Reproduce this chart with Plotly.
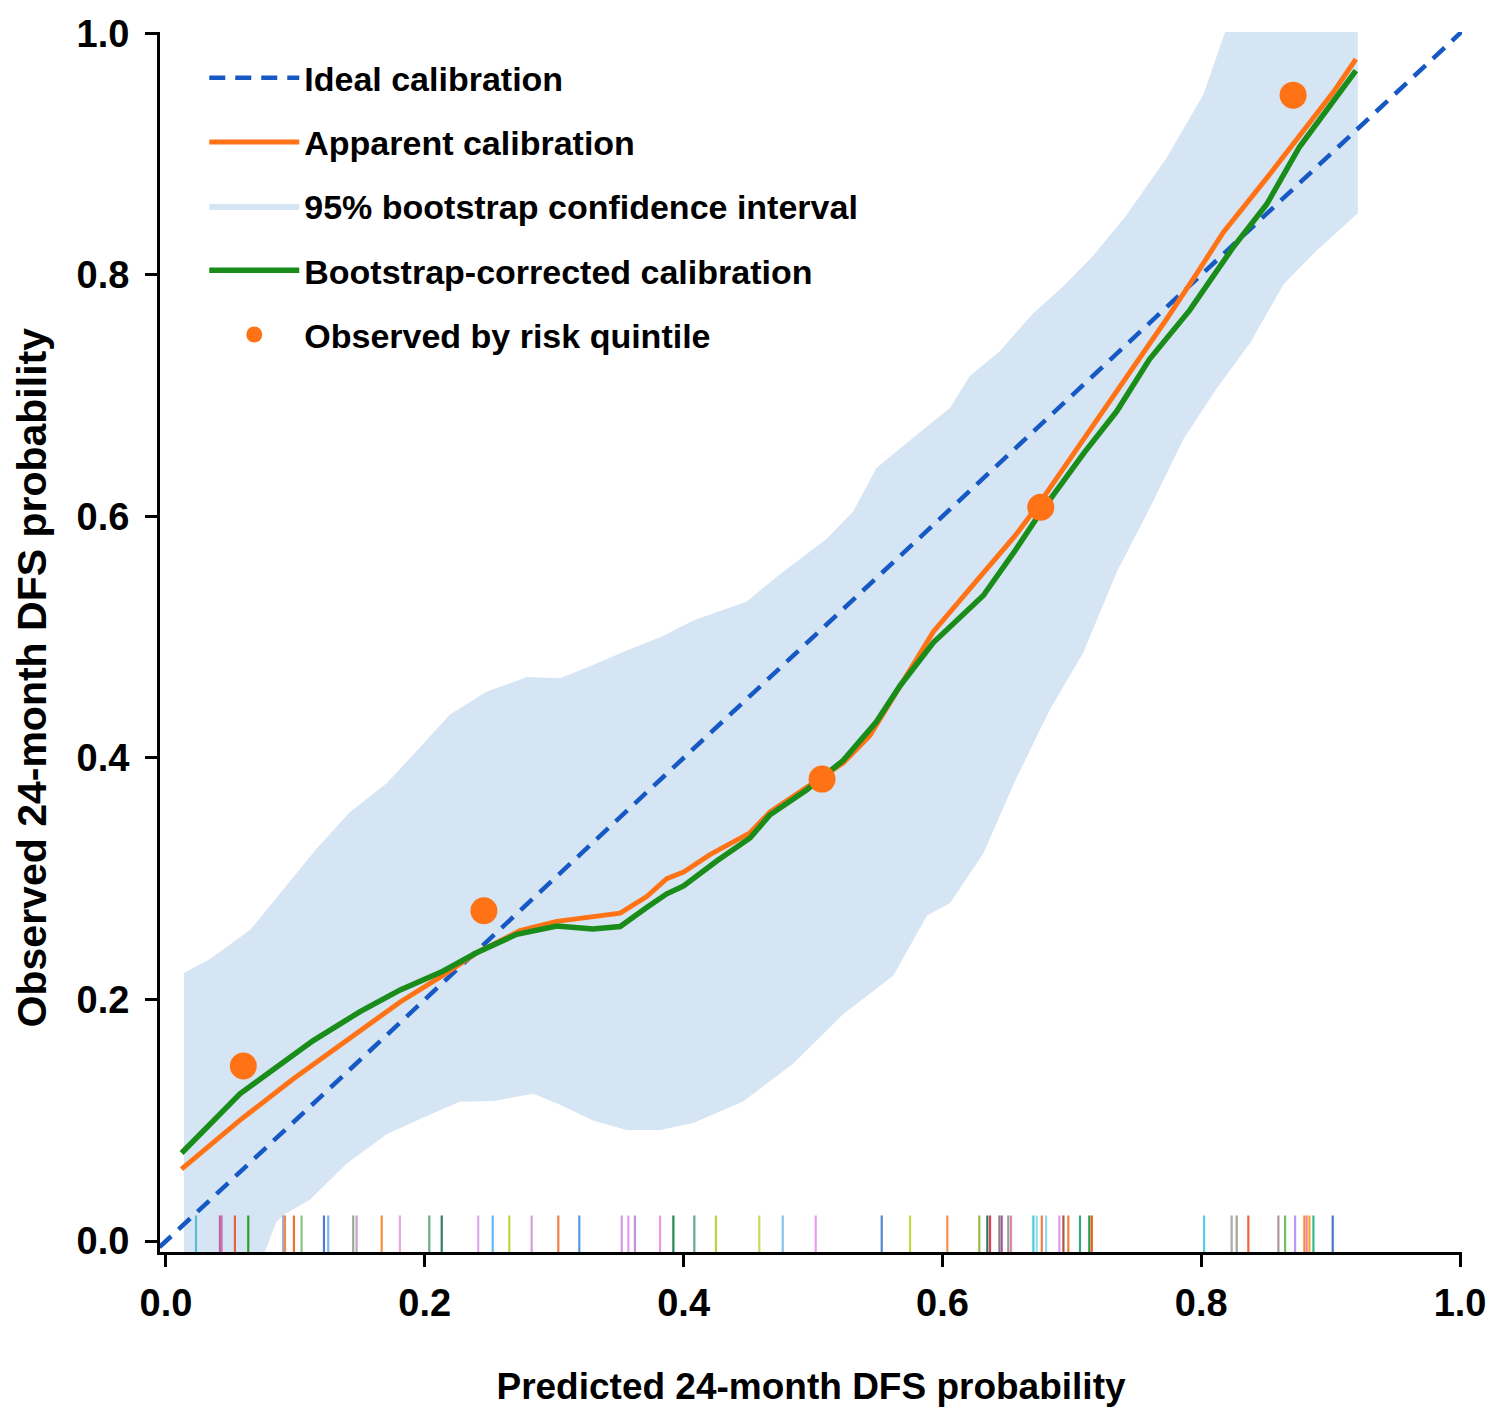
import plotly.graph_objects as go

# ---------------- data ----------------
ideal_x = [-0.005, 1.0015]
ideal_y = [-0.005, 1.0015]

apparent_x = [0.012, 0.057, 0.098, 0.140, 0.181, 0.214, 0.240, 0.2736, 0.302, 0.351, 0.3715,
              0.387, 0.400, 0.4204, 0.4513, 0.4668, 0.495, 0.5234, 0.544, 0.567, 0.593, 0.629,
              0.657, 0.675, 0.709, 0.742, 0.773, 0.7965, 0.817, 0.8506, 0.876, 0.902, 0.9195]
apparent_y = [0.0596, 0.100, 0.134, 0.166, 0.198, 0.220, 0.2387, 0.257, 0.2647, 0.2715, 0.2853,
              0.300, 0.3056, 0.320, 0.338, 0.3554, 0.3758, 0.396, 0.4187, 0.4594, 0.5046, 0.550,
              0.585, 0.611, 0.6635, 0.7134, 0.763, 0.801, 0.835, 0.880, 0.9156, 0.951, 0.9785]

corrected_x = [0.0121, 0.0572, 0.083, 0.1138, 0.150, 0.181, 0.214, 0.240, 0.271, 0.302, 0.330,
               0.351, 0.3715, 0.387, 0.400, 0.4256, 0.4513, 0.4668, 0.495, 0.5234, 0.549, 0.567,
               0.593, 0.6316, 0.657, 0.675, 0.709, 0.7347, 0.760, 0.791, 0.8248, 0.8506, 0.876,
               0.902, 0.9195]
corrected_y = [0.073, 0.122, 0.142, 0.166, 0.190, 0.208, 0.2235, 0.2387, 0.254, 0.2608, 0.2585,
               0.2605, 0.2762, 0.2875, 0.294, 0.3147, 0.3337, 0.353, 0.3735, 0.398, 0.430, 0.4594,
               0.4956, 0.5345, 0.573, 0.602, 0.652, 0.687, 0.730, 0.7705, 0.823, 0.8584, 0.906,
               0.944, 0.969]

ci_upper_x = [0.0139, 0.034, 0.065, 0.0855, 0.1165, 0.142, 0.1705, 0.191, 0.2195, 0.248, 0.279,
              0.3045, 0.330, 0.356, 0.382, 0.4075, 0.4488, 0.472, 0.5106, 0.531, 0.549, 0.575,
              0.606, 0.621, 0.6445, 0.670, 0.693, 0.7165, 0.742, 0.773, 0.8016, 0.8246, 0.921]
ci_upper_y = [0.222, 0.2336, 0.2575, 0.284, 0.325, 0.355, 0.379, 0.4026, 0.436, 0.455, 0.467,
              0.466, 0.477, 0.489, 0.500, 0.5137, 0.5296, 0.550, 0.5815, 0.604, 0.640, 0.663,
              0.690, 0.716, 0.737, 0.768, 0.790, 0.8157, 0.849, 0.8965, 0.949, 1.02, 1.02]

ci_lower_x = [0.0139, 0.0726, 0.0853, 0.093, 0.111, 0.140, 0.1705, 0.2015, 0.227, 0.253, 0.284,
              0.3045, 0.330, 0.356, 0.382, 0.4075, 0.446, 0.485, 0.5234, 0.562, 0.588, 0.606,
              0.6316, 0.657, 0.683, 0.709, 0.7347, 0.760, 0.786, 0.812, 0.838, 0.8635, 0.889, 0.921]
ci_lower_y = [-0.02, -0.02, 0.016, 0.023, 0.034, 0.0645, 0.0885, 0.1035, 0.1154, 0.116, 0.122,
              0.113, 0.0998, 0.092, 0.092, 0.0977, 0.1156, 0.1473, 0.188, 0.2197, 0.2694, 0.280,
              0.321, 0.383, 0.440, 0.4876, 0.554, 0.6064, 0.6635, 0.706, 0.744, 0.792, 0.820, 0.851]

quintile_x = [0.0598, 0.2457, 0.507, 0.676, 0.871]
quintile_y = [0.145, 0.2735, 0.3825, 0.6075, 0.9487]

rug_x = [0.0232, 0.0417, 0.0430, 0.0533, 0.0636, 0.0906, 0.0920, 0.0989, 0.1048, 0.1221, 0.1254,
         0.1447, 0.1473, 0.1667, 0.1808, 0.2035, 0.2131, 0.2413, 0.2525, 0.2653, 0.2826, 0.3032,
         0.3194, 0.3522, 0.3573, 0.3624,
         0.3818, 0.3921, 0.4083, 0.4250, 0.4585, 0.4766, 0.5021, 0.5531, 0.5750, 0.6038, 0.6285,
         0.6347, 0.6368, 0.6440, 0.6458, 0.6509, 0.6530, 0.6703, 0.6729, 0.6768, 0.6801, 0.6904,
         0.6935, 0.6973, 0.7063, 0.7135, 0.7154,
         0.8022, 0.8235, 0.8274, 0.8364, 0.8596, 0.8648, 0.8725, 0.8797, 0.8815, 0.8836, 0.8867,
         0.9016]
rug_colors = ["#5bbcd6", "#b565a7", "#d070b0", "#e8603c", "#2ca02c", "#a5a5c0", "#e8905a", "#f07030",
              "#8cc080", "#5577dd", "#77bbee", "#9aaa9a", "#c8a0c8", "#f39040", "#eaa6e6", "#66aa88",
              "#2f7f5f", "#e0aaf0", "#66b8f0", "#bbd840", "#d0a0e0", "#f08050", "#5599dd", "#d59ae0",
              "#e0a0f0", "#c890d8",
              "#ee99dd", "#228855", "#66aa88", "#c0d040", "#c8dd55", "#88c4f0", "#ee99ee", "#5588cc",
              "#c8d840", "#f59050", "#99bb44", "#2a7a5a", "#e04060", "#888888", "#aa5599", "#999999",
              "#dd88aa", "#44ccdd", "#99ddee", "#f08040", "#88ddee", "#dd99ee", "#aa5544", "#f28030",
              "#33aa77", "#2a9a4a", "#f05a20",
              "#55ccee", "#aaaaaa", "#99aa99", "#ee6633", "#aa9999", "#77bb66", "#bb99ee", "#ff8833",
              "#ee88aa", "#eeaa33", "#33bb88", "#4477cc"]
rug_y = [0.005] * len(rug_x)

x_ticks = [0.0, 0.2, 0.4, 0.6, 0.8, 1.0]
y_ticks = [0.0, 0.2, 0.4, 0.6, 0.8, 1.0]
tick_text = ["0.0", "0.2", "0.4", "0.6", "0.8", "1.0"]

x_title = "Predicted 24-month DFS probability"
y_title = "Observed 24-month DFS probability"

# ---------------- styles ----------------
FONT = "Liberation Sans, Arial, sans-serif"
C_BAND = "#d6e5f4"
C_IDEAL = "#1659c4"
C_APP = "#ff7316"
C_COR = "#1a8c1a"

fig = go.Figure()

fig.add_trace(go.Scatter(
    x=ci_upper_x + ci_lower_x[::-1], y=ci_upper_y + ci_lower_y[::-1],
    mode="lines", fill="toself", fillcolor=C_BAND, line=dict(width=0, color=C_BAND),
    name="95% bootstrap confidence interval", legendrank=3, legendgroup="c", hoverinfo="skip"))

fig.add_trace(go.Scatter(
    x=ideal_x, y=ideal_y, mode="lines",
    line=dict(color=C_IDEAL, width=4.5, dash="16px,10px"),
    name="Ideal calibration", legendrank=1, legendgroup="a"))

fig.add_trace(go.Scatter(
    x=rug_x, y=rug_y, mode="markers", showlegend=False, hoverinfo="x",
    marker=dict(symbol="line-ns-open", size=28, color=rug_colors,
                line=dict(width=2.2, color=rug_colors))))

fig.add_trace(go.Scatter(
    x=apparent_x, y=apparent_y, mode="lines",
    line=dict(color=C_APP, width=5),
    name="Apparent calibration", legendrank=2, legendgroup="b"))

fig.add_trace(go.Scatter(
    x=corrected_x, y=corrected_y, mode="lines",
    line=dict(color=C_COR, width=5.5),
    name="Bootstrap-corrected calibration", legendrank=4, legendgroup="d"))

fig.add_trace(go.Scatter(
    x=quintile_x, y=quintile_y, mode="markers",
    marker=dict(color=C_APP, size=27, symbol="circle", line=dict(width=0)),
    name="Observed by risk quintile", legendrank=5, legendgroup="e"))

axis_common = dict(
    showline=True, linecolor="black", linewidth=3,
    ticks="outside", ticklen=12, tickwidth=3, tickcolor="black",
    showgrid=False, zeroline=False, automargin=False,
    tickfont=dict(family=FONT, size=38, color="black", weight="bold"),
    tickvals=x_ticks, ticktext=tick_text,
)

fig.update_layout(
    width=1485, height=1399,
    margin=dict(l=152, r=31, t=24, b=155),
    paper_bgcolor="white", plot_bgcolor="white",
    font=dict(family=FONT, color="black", weight="bold"),
    xaxis=dict(axis_common, range=[-0.0046, 1.0015], ticklabelstandoff=3,
               title=dict(text=x_title,
                          font=dict(family=FONT, size=37, color="black", weight="bold"),
                          standoff=51)),
    yaxis=dict(axis_common, range=[-0.009, 1.001], tickvals=y_ticks, ticklabelstandoff=8),
    legend=dict(x=0.034, y=0.986, xanchor="left", yanchor="top",
                bgcolor="rgba(0,0,0,0)", borderwidth=0,
                font=dict(family=FONT, size=34, color="black", weight="bold"),
                tracegroupgap=17, itemwidth=90, traceorder="grouped"),
    showlegend=True,
    annotations=[dict(text=y_title, xref="paper", yref="paper", x=-0.0983, y=0.471,
                      xanchor="center", yanchor="middle", textangle=-90, showarrow=False,
                      font=dict(family=FONT, size=41, color="black", weight="bold"))],
)

fig.write_html("out.html")
